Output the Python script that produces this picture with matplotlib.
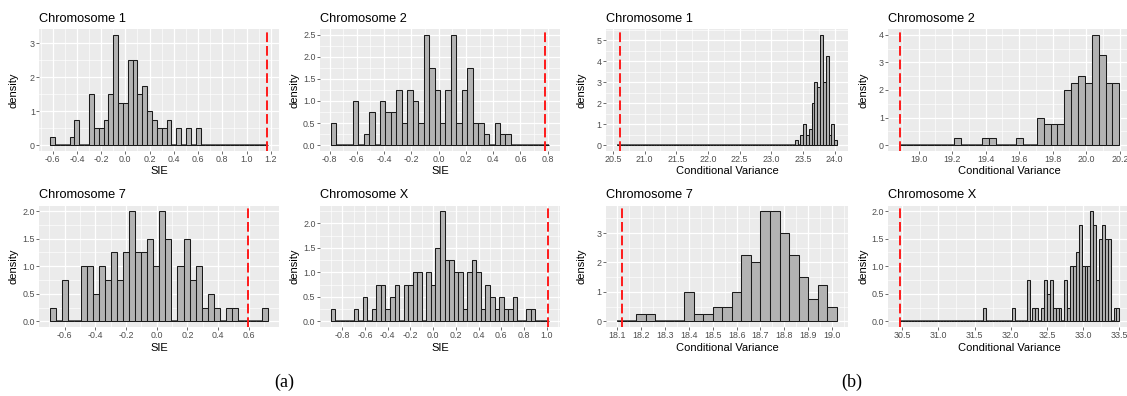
import numpy as np
import matplotlib.pyplot as plt
from matplotlib.ticker import MultipleLocator, FormatStrFormatter

plt.rcParams['font.family'] = ['Liberation Sans', 'DejaVu Sans']

# ---- data: density heights per bin, first bin centre, bin width, observed value
chr1_sie = [0.25, 0, 0, 0, 0.25, 0.75, 0, 0, 1.5, 0.5, 0.5, 0.75, 1.5, 3.25, 1.25, 1.25,
            2.5, 2.5, 1.5, 1.75, 1.0, 0.75, 0.5, 0.5, 0.75, 0, 0.5, 0, 0.5, 0, 0.5]
chr2_sie = [0.5, 0, 0, 0, 1.0, 0, 0.25, 0.75, 0, 1.0, 0.75, 0.75, 1.25, 0.5, 1.25, 1.0, 0.5,
            2.5, 1.75, 1.25, 0.5, 1.25, 2.5, 0.5, 1.25, 1.75, 0.5, 0.5, 0.25, 0, 0.5, 0.25, 0.25]
chr7_sie = [0.25, 0, 0.75, 0, 0, 1.0, 1.0, 0.5, 1.0, 0.75, 1.25, 0.75, 1.25, 2.0, 1.25, 1.25,
            1.5, 1.0, 2.0, 1.5, 0, 1.0, 1.5, 0.75, 1.0, 0.25, 0.5, 0.25, 0, 0.25, 0.25,
            0, 0, 0, 0, 0.25]
chrX_sie = [0.25, 0, 0, 0, 0, 0.25, 0, 0.5, 0, 0.25, 0.75, 0.75, 0.25, 0.5, 0.75, 0, 0.75,
            0.75, 1.0, 1.0, 0, 1.0, 0.75, 1.5, 2.25, 1.25, 1.25, 1.0, 1.0, 0.25, 1.0, 1.25,
            1.0, 0.25, 0.75, 0.5, 0.25, 0.5, 0.25, 0.25, 0.5, 0, 0, 0.25, 0.25, 0, 0, 0]

chr1_cv = [0.25, 0, 0.5, 1.0, 0.5, 0.75, 2.0, 3.0, 2.75, 5.25, 3.0, 4.25, 0.5, 1.0, 0.25]
chr2_cv = [0.25, 0, 0, 0, 0.25, 0.25, 0, 0, 0, 0.25, 0, 0, 1.0, 0.75, 0.75, 0.75, 2.0,
           2.25, 2.5, 2.25, 4.0, 3.25, 2.25, 2.25]
chr7_cv = [0.25, 0.25, 0, 0, 0, 1.0, 0.25, 0.25, 0.5, 0.5, 1.0, 2.25, 2.0, 3.75, 3.75, 3.0,
           2.25, 1.5, 0.75, 1.25, 0.5]
chrX_cv = [0.25, 0, 0, 0, 0, 0, 0, 0, 0, 0, 0.25, 0, 0, 0, 0, 0.75, 0, 0.25, 0.25, 0, 0.25,
           0.75, 0.5, 0.75, 0.25, 0.25, 0.25, 0, 0.75, 0.25, 1.0, 1.0, 1.25, 1.75, 1.0, 1.0,
           1.0, 2.0, 1.75, 0.75, 1.5, 1.75, 1.5, 1.5, 0, 0.25, 0.25]

titles = ['Chromosome 1', 'Chromosome 2', 'Chromosome 7', 'Chromosome X']
starts_sie = [-0.60, -0.77, -0.675, -0.88]
widths_sie = [0.04, 0.04, 0.0395, 0.04]
obs_sie = [1.17, 0.783, 0.593, 1.013]
starts_cv = [23.391, 19.2335, 18.20, 31.64]
widths_cv = [0.0445, 0.041, 0.04, 0.04]
obs_cv = [20.605, 18.89, 18.121, 30.467]

# tick steps (x, y) per panel
xsteps_sie = [0.2, 0.2, 0.2, 0.2]
ysteps_sie = [1, 0.5, 0.5, 0.5]
xsteps_cv = [0.5, 0.2, 0.1, 0.5]
ysteps_cv = [1, 1, 1, 0.5]

W, H = 1127, 396
fig = plt.figure(figsize=(W / 100, H / 100), dpi=100)

col_left = [39.3, 320, 606, 888.3]
col_w = [240, 240, 242, 242]
row_top = [29.3, 205.5]
row_h = 121.3

gray = '#4d4d4d'


def draw(ax, heights, start, bw, obs, xstep, ystep, title, xlabel, fmt_y, lab_x):
    h = list(heights)
    c0 = start
    # pad empty bins so the histogram reaches the observed value
    while c0 - bw / 2 > obs:
        h.insert(0, 0)
        c0 -= bw
    while c0 + bw * (len(h) - 0.5) < obs:
        h.append(0)
    h = np.array(h, dtype=float)
    centers = c0 + bw * np.arange(len(h))
    lo = centers[0] - bw / 2
    hi = centers[-1] + bw / 2

    ax.set_facecolor('#ebebeb')
    # empty bins show up as a flat outline along zero
    ax.hlines(0, lo, hi, color='#555555', lw=1.3, zorder=1.5)
    ax.bar(centers, h, width=bw, color='#b3b3b3', edgecolor='#1a1a1a', linewidth=0.75,
           zorder=2)
    ax.axvline(obs, color='#ff1a1a', lw=1.4, ls=(0, (5, 2)), zorder=3)

    ax.set_xlim(lo - 0.05 * (hi - lo), hi + 0.05 * (hi - lo))
    ymax = h.max()
    ax.set_ylim(-0.05 * ymax, 1.05 * ymax)

    ax.xaxis.set_major_locator(MultipleLocator(xstep))
    ax.xaxis.set_minor_locator(MultipleLocator(xstep / 2))
    ax.yaxis.set_major_locator(MultipleLocator(ystep))
    ax.yaxis.set_minor_locator(MultipleLocator(ystep / 2))
    ax.xaxis.set_major_formatter(FormatStrFormatter('%.1f'))
    ax.yaxis.set_major_formatter(FormatStrFormatter(fmt_y))

    ax.grid(which='major', color='white', lw=0.9, zorder=0)
    ax.grid(which='minor', color='white', lw=0.45, zorder=0)
    ax.set_axisbelow(True)
    for s in ax.spines.values():
        s.set_visible(False)
    ax.tick_params(which='major', length=2.0, width=0.5, color='#333333',
                   labelsize=6.4, labelcolor=gray, pad=1.2)
    ax.tick_params(which='minor', length=0)

    ax.set_title(title, loc='left', fontsize=9.2, pad=5.5)
    ax.set_ylabel('density', fontsize=8)
    ax.set_xlabel(xlabel, fontsize=8)
    ax.yaxis.set_label_coords(lab_x, 0.5)
    ax.xaxis.set_label_coords(0.5, -0.13)


for i in range(4):
    r, c = divmod(i, 2)
    # SIE panels (left half)
    ax = fig.add_axes([col_left[c] / W, 1 - (row_top[r] + row_h) / H, col_w[c] / W, row_h / H])
    data = [chr1_sie, chr2_sie, chr7_sie, chrX_sie][i]
    fmt = '%.0f' if ysteps_sie[i] >= 1 else '%.1f'
    draw(ax, data, starts_sie[i], widths_sie[i], obs_sie[i], xsteps_sie[i], ysteps_sie[i],
         titles[i], 'SIE', fmt, -0.086)
    # conditional variance panels (right half)
    ax = fig.add_axes([col_left[c + 2] / W, 1 - (row_top[r] + row_h) / H, col_w[c + 2] / W,
                       row_h / H])
    data = [chr1_cv, chr2_cv, chr7_cv, chrX_cv][i]
    fmt = '%.0f' if ysteps_cv[i] >= 1 else '%.1f'
    draw(ax, data, starts_cv[i], widths_cv[i], obs_cv[i], xsteps_cv[i], ysteps_cv[i],
         titles[i], 'Conditional Variance', fmt, -0.081)

fig.text(284 / W, 1 - 382 / H, '(a)', family='Liberation Serif', fontsize=13,
         ha='center', va='center')
fig.text(852 / W, 1 - 382 / H, '(b)', family='Liberation Serif', fontsize=13,
         ha='center', va='center')

fig.savefig('out.png', dpi=100)
